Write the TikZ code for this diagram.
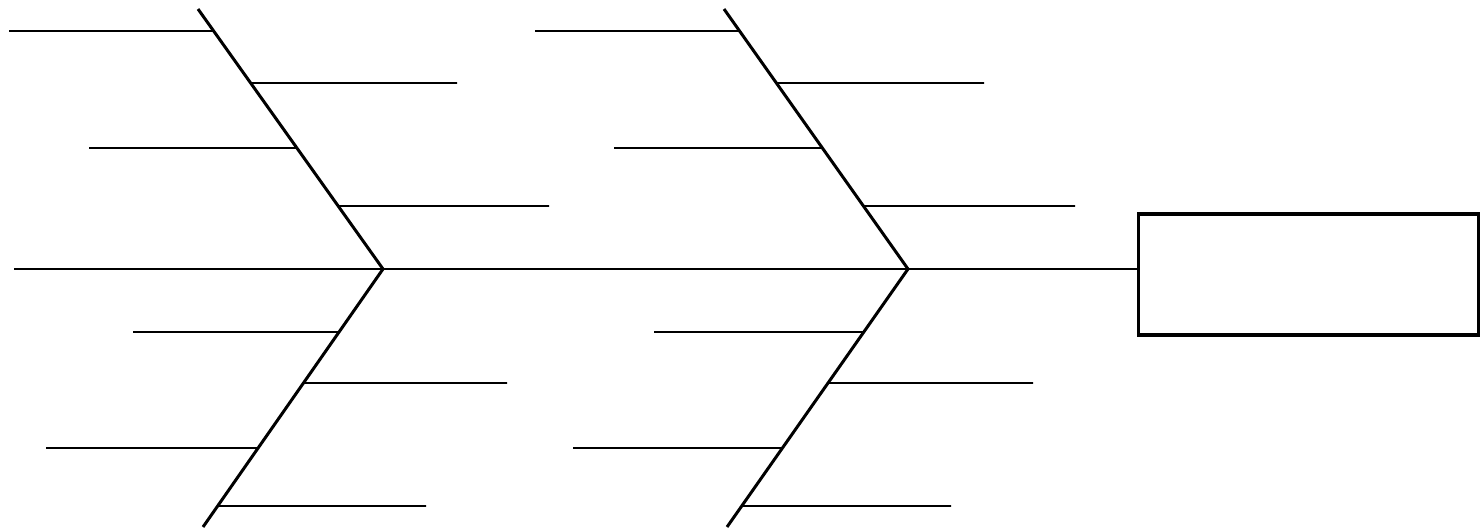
\documentclass[tikz,border=0pt]{standalone}
\usetikzlibrary{calc}
\begin{document}
\begin{tikzpicture}[x=1pt,y=-1pt,
  bone/.style={line width=3pt},
  spine/.style={line width=2.3pt},
  rib/.style={line width=1.8pt},
  effectbox/.style={draw,line width=3.2pt,minimum width=340pt,minimum height=121pt,inner sep=0pt}]
\useasboundingbox (0,0) rectangle (1484,531);
% effect box
\node[effectbox] (effect) at (1308.5,274.5) {};
% bone vertices
\coordinate (tail) at (14,269);
\coordinate (top1) at (198,9);
\coordinate (v1) at (383,269);
\coordinate (bot1) at (203,527);
\coordinate (top2) at (724,9);
\coordinate (v2) at (908,269);
\coordinate (bot2) at (727,527);
% spine
\draw[spine] (tail) -- (v1) -- (v2) -- (v2 -| effect.west);
% bones
\draw[bone] (top1) -- (v1) -- (bot1);
\draw[bone] (top2) -- (v2) -- (bot2);
% ribs on upper bones
\foreach \y/\xa/\xb [count=\i] in {31/9/535, 83/457/984, 148/89/614, 206/549/1075}{
  \coordinate (ua\i) at ($(top1)!{(\y-9)/260}!(v1)$);
  \coordinate (ub\i) at ($(top2)!{(\y-9)/260}!(v2)$);
  \coordinate (uaf\i) at (\xa,\y);
  \coordinate (ubf\i) at (\xb,\y);
  \draw[rib] (ua\i) -- (uaf\i);
  \draw[rib] (ub\i) -- (ubf\i);
}
% ribs on lower bones
\foreach \y/\xa/\xb [count=\i] in {332/133/654, 383/507/1033, 448/46/573, 506/426/951}{
  \coordinate (la\i) at ($(v1)!{(\y-269)/258}!(bot1)$);
  \coordinate (lb\i) at ($(v2)!{(\y-269)/258}!(bot2)$);
  \coordinate (laf\i) at (\xa,\y);
  \coordinate (lbf\i) at (\xb,\y);
  \draw[rib] (la\i) -- (laf\i);
  \draw[rib] (lb\i) -- (lbf\i);
}
\end{tikzpicture}
\end{document}
